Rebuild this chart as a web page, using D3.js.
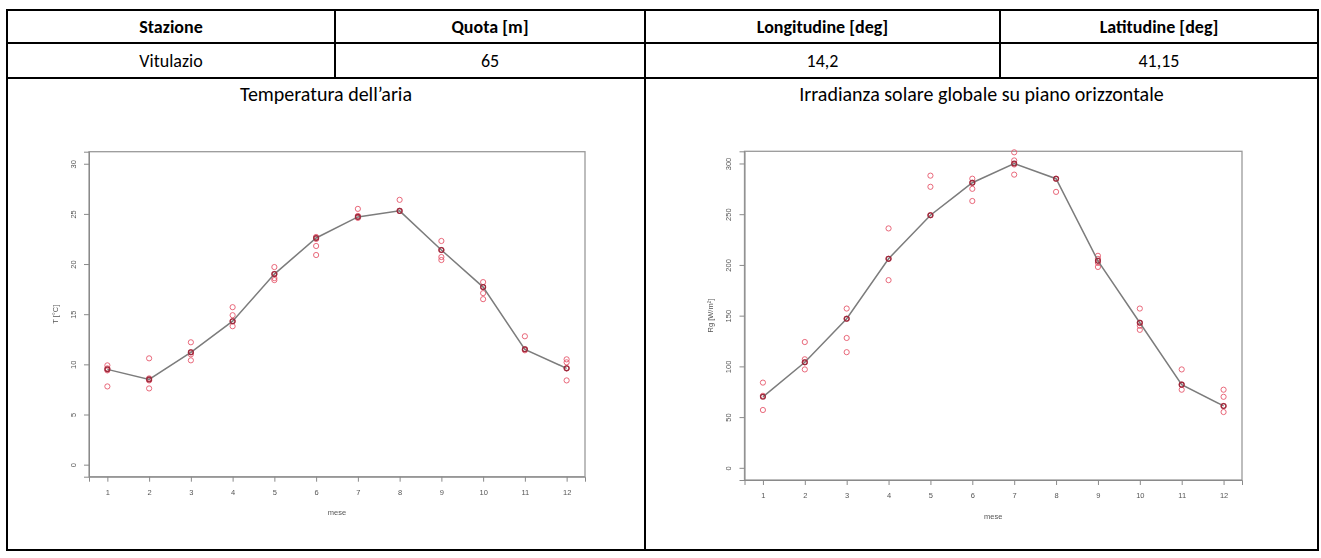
<!DOCTYPE html>
<html>
<head>
<meta charset="utf-8">
<script src="https://cdn.jsdelivr.net/npm/d3@7"></script>
<style>
  html, body { margin: 0; padding: 0; background: #fff; }
  svg { display: block; }
</style>
</head>
<body>
<svg id="chart" width="1321" height="558"></svg>
<script>
// ---- station table ----
const headers = ["Stazione", "Quota [m]", "Longitudine [deg]", "Latitudine [deg]"];
const stationRow = ["Vitulazio", "65", "14,2", "41,15"];
const panelTitles = ["Temperatura dell\u2019aria", "Irradianza solare globale su piano orizzontale"];

// ---- monthly data ----
const months = [1, 2, 3, 4, 5, 6, 7, 8, 9, 10, 11, 12];

// air temperature [°C]: monthly mean and single-year values
const tempMean = [9.5, 8.5, 11.2, 14.3, 19.0, 22.6, 24.7, 25.3, 21.4, 17.7, 11.5, 9.6];
const tempYears = [
  [9.9, 9.6, 9.4, 7.8],
  [10.6, 8.6, 8.4, 7.6],
  [12.2, 11.2, 11.0, 10.4],
  [15.7, 14.9, 14.3, 13.8],
  [19.7, 19.0, 18.6, 18.4],
  [22.7, 22.5, 21.8, 20.9],
  [25.5, 24.8, 24.6],
  [26.4, 25.3],
  [22.3, 21.4, 20.7, 20.4],
  [18.2, 17.7, 17.1, 16.5],
  [12.8, 11.5, 11.4],
  [10.5, 10.2, 9.6, 8.4]
];
const tempTicks = [0, 5, 10, 15, 20, 25, 30];

// global horizontal irradiance [W/m²]: monthly mean and single-year values
const radMean = [70, 104, 147, 206, 249, 281, 300, 285, 204, 143, 82, 61];
const radYears = [
  [84, 71, 57],
  [124, 107, 104, 97],
  [157, 147, 128, 114],
  [236, 206, 185],
  [288, 277, 249],
  [285, 281, 275, 263],
  [311, 303, 299, 289],
  [285, 272],
  [209, 206, 202, 198],
  [157, 143, 140, 136],
  [97, 82, 77],
  [77, 70, 61, 55]
];
const radTicks = [0, 50, 100, 150, 200, 250, 300];

// ---- layout ----
const svg = d3.select("#chart");
const T = { left: 7, right: 1318, top: 10, bottom: 550, rows: [43, 78], cols: [335, 645, 1000] };
const tableFont = "Carlito, Calibri, Lato, 'Open Sans', sans-serif";
const tableSize = 18;
const titleSize = 20;

const table = svg.append("g").attr("stroke", "#000").attr("stroke-width", 2).attr("fill", "none");
table.append("rect").attr("x", T.left).attr("y", T.top)
  .attr("width", T.right - T.left).attr("height", T.bottom - T.top);
T.rows.forEach(y => table.append("line").attr("x1", T.left).attr("x2", T.right).attr("y1", y).attr("y2", y));
T.cols.forEach(x => {
  const yEnd = x === T.cols[1] ? T.bottom : T.rows[1];
  table.append("line").attr("x1", x).attr("x2", x).attr("y1", T.top).attr("y2", yEnd);
});

const colEdges = [T.left, ...T.cols, T.right];
const colCenter = i => (colEdges[i] + colEdges[i + 1]) / 2;

svg.append("g").selectAll("text").data(headers).join("text")
  .attr("x", (d, i) => colCenter(i)).attr("y", (T.top + T.rows[0]) / 2).attr("dy", "0.35em")
  .attr("text-anchor", "middle").attr("font-family", tableFont).attr("font-weight", "bold")
  .attr("font-size", tableSize).text(d => d);

svg.append("g").selectAll("text").data(stationRow).join("text")
  .attr("x", (d, i) => colCenter(i)).attr("y", (T.rows[0] + T.rows[1]) / 2).attr("dy", "0.35em")
  .attr("text-anchor", "middle").attr("font-family", tableFont)
  .attr("font-size", tableSize).text(d => d);

const panelCenters = [(T.left + T.cols[1]) / 2, (T.cols[1] + T.right) / 2];
svg.append("g").selectAll("text").data(panelTitles).join("text")
  .attr("x", (d, i) => panelCenters[i]).attr("y", T.rows[1] + 16).attr("dy", "0.35em")
  .attr("text-anchor", "middle").attr("font-family", tableFont)
  .attr("font-size", titleSize).text(d => d);

// soft look of the embedded plots
const defs = svg.append("defs");
defs.append("filter").attr("id", "soft").append("feGaussianBlur").attr("stdDeviation", 0.45);

function drawPanel(cfg) {
  const x = d3.scaleLinear().domain([0.56, 12.44]).range([cfg.x0, cfg.x1]);
  const span = cfg.yMax - cfg.yMin;
  const y = d3.scaleLinear().domain([cfg.yMin - 0.04 * span, cfg.yMax + 0.04 * span]).range([cfg.y1, cfg.y0]);
  const g = svg.append("g").attr("filter", "url(#soft)");
  const axisFont = "'Liberation Sans', Arial, sans-serif";

  // frame
  g.append("rect").attr("x", cfg.x0).attr("y", cfg.y0)
    .attr("width", cfg.x1 - cfg.x0).attr("height", cfg.y1 - cfg.y0)
    .attr("fill", "none").attr("stroke", "#9a9a9a").attr("stroke-width", 1.3);

  // x axis
  const ax = g.append("g").attr("transform", `translate(0,${cfg.y1})`)
    .call(d3.axisBottom(x).tickValues(months).tickSize(5).tickPadding(8).tickFormat(d3.format("d")));
  ax.select(".domain").attr("stroke", "#8a8a8a");
  ax.selectAll(".tick line").attr("stroke", "#8a8a8a");
  ax.selectAll("text").attr("font-family", axisFont).attr("font-size", 7.5).attr("fill", "#555");

  // y axis with labels parallel to the axis
  const ay = g.append("g").attr("transform", `translate(${cfg.x0},0)`)
    .call(d3.axisLeft(y).tickValues(cfg.ticks).tickSize(5).tickFormat(d3.format("d")));
  ay.select(".domain").attr("stroke", "#8a8a8a");
  ay.selectAll(".tick line").attr("stroke", "#8a8a8a");
  ay.selectAll("text").attr("x", null).attr("dy", "0.35em").attr("text-anchor", "middle")
    .attr("transform", "translate(-16,0) rotate(-90)")
    .attr("font-family", axisFont).attr("font-size", 7.5).attr("fill", "#555");

  g.append("text").attr("x", (cfg.x0 + cfg.x1) / 2).attr("y", cfg.y1 + 36).attr("dy", "0.35em")
    .attr("text-anchor", "middle").attr("font-family", axisFont).attr("font-size", 7.5)
    .attr("fill", "#555").text("mese");
  g.append("text").attr("transform", `translate(${cfg.x0 - 34},${(cfg.y0 + cfg.y1) / 2}) rotate(-90)`)
    .attr("dy", "0.35em").attr("text-anchor", "middle").attr("font-family", axisFont)
    .attr("font-size", 7.5).attr("fill", "#555").text(cfg.yTitle);

  // single-year values
  const pts = cfg.years.flatMap((vals, i) => vals.map(v => ({ m: months[i], v })));
  g.append("g").selectAll("circle").data(pts).join("circle")
    .attr("cx", d => x(d.m)).attr("cy", d => y(d.v)).attr("r", 2.6)
    .attr("fill", "none").attr("stroke", "#e5586c").attr("stroke-width", 0.9);

  // mean curve
  g.append("path").datum(cfg.mean)
    .attr("d", d3.line().x((d, i) => x(months[i])).y(d => y(d)))
    .attr("fill", "none").attr("stroke", "#7c7c7c").attr("stroke-width", 1.5);
  g.append("g").selectAll("circle").data(cfg.mean).join("circle")
    .attr("cx", (d, i) => x(months[i])).attr("cy", d => y(d)).attr("r", 2.4)
    .attr("fill", "none").attr("stroke", "#9c2a3c").attr("stroke-width", 1.3);
}

drawPanel({ x0: 89, x1: 585, y0: 151.7, y1: 476.7, yMin: 0, yMax: 30,
  ticks: tempTicks, mean: tempMean, years: tempYears, yTitle: "T [\u00b0C]" });
drawPanel({ x0: 744.5, x1: 1242, y0: 151.3, y1: 480, yMin: 0, yMax: 300,
  ticks: radTicks, mean: radMean, years: radYears, yTitle: "Rg [W/m\u00b2]" });
</script>
</body>
</html>
